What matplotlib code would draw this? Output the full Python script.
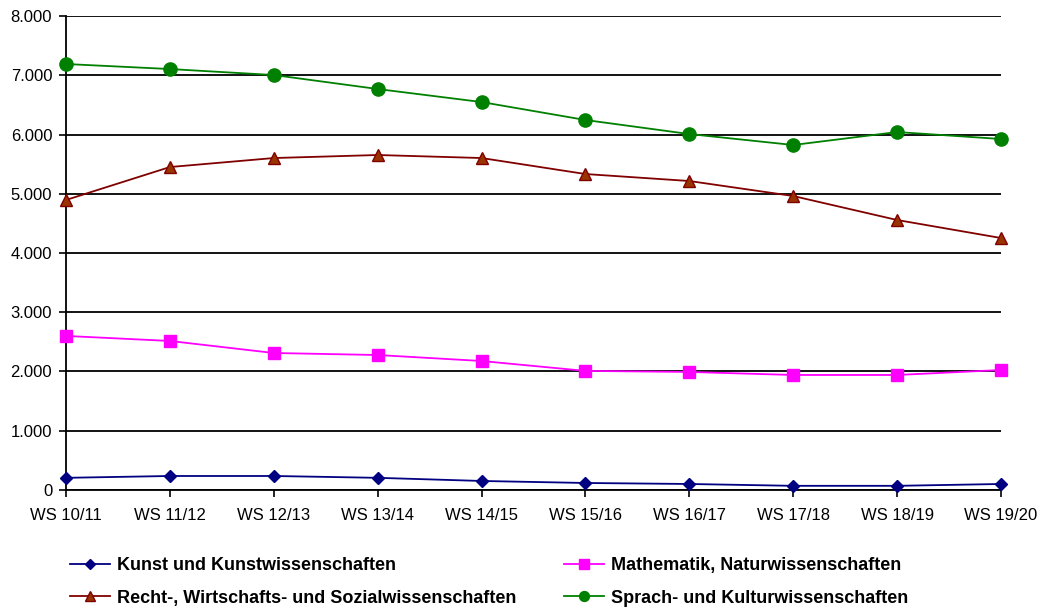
import numpy as np
import matplotlib
matplotlib.use("Agg")
import matplotlib.pyplot as plt
from matplotlib.ticker import FuncFormatter

plt.rcParams['font.family'] = ['Liberation Sans', 'DejaVu Sans']

semester = ['WS 10/11', 'WS 11/12', 'WS 12/13', 'WS 13/14', 'WS 14/15',
            'WS 15/16', 'WS 16/17', 'WS 17/18', 'WS 18/19', 'WS 19/20']

kunst = [205, 236, 236, 205, 152, 118, 101, 70, 70, 101]
mathe = [2600, 2515, 2312, 2278, 2177, 2010, 1992, 1941, 1941, 2025]
recht = [4895, 5451, 5603, 5654, 5603, 5333, 5215, 4962, 4557, 4253]
sprach = [7190, 7105, 7004, 6768, 6548, 6245, 6008, 5823, 6042, 5924]

fig = plt.figure(figsize=(10.43, 6.07), dpi=100)
ax = fig.add_axes([0.0633, 0.1928, 0.8964, 0.7808])

x = np.arange(len(semester))

ax.plot(x, kunst, color='#000080', lw=1.3, marker='D', ms=6.5,
        label='Kunst und Kunstwissenschaften', clip_on=False, zorder=5)
ax.plot(x, mathe, color='#FF00FF', lw=1.3, marker='s', ms=9,
        label='Mathematik, Naturwissenschaften', clip_on=False, zorder=5)
ax.plot(x, recht, color='#800000', lw=1.3, marker='^', ms=9,
        mfc='#993300', mec='#800000',
        label='Recht-, Wirtschafts- und Sozialwissenschaften', clip_on=False, zorder=5)
ax.plot(x, sprach, color='#008000', lw=1.3, marker='o', ms=9.5,
        label='Sprach- und Kulturwissenschaften', clip_on=False, zorder=5)

ax.set_xlim(0, 9)
ax.set_ylim(0, 8000)
ax.set_yticks(np.arange(0, 8001, 1000))
ax.yaxis.set_major_formatter(FuncFormatter(lambda v, p: f'{int(v):,}'.replace(',', '.')))
ax.set_xticks(x)
ax.set_xticklabels(semester)
ax.yaxis.grid(True, color='black', lw=1.3)
ax.set_axisbelow(True)

for s in ['top', 'right']:
    ax.spines[s].set_visible(False)
for s in ['left', 'bottom']:
    ax.spines[s].set_color('black')
    ax.spines[s].set_linewidth(1.3)

ax.tick_params(axis='both', labelsize=12, length=5, width=1.2, color='black')
ax.tick_params(axis='x', pad=8)
ax.tick_params(axis='y', pad=5)

handles, labels = ax.get_legend_handles_labels()
order = [0, 2, 1, 3]
leg = fig.legend([handles[i] for i in order], [labels[i] for i in order],
                 ncol=2, loc='lower left', bbox_to_anchor=(0.052, -0.026),
                 frameon=False, handlelength=2.2, handletextpad=0.4,
                 columnspacing=2.62, labelspacing=0.85, markerscale=0.75,
                 prop={'weight': 'bold', 'size': 13})

fig.savefig('out.png', dpi=100)
